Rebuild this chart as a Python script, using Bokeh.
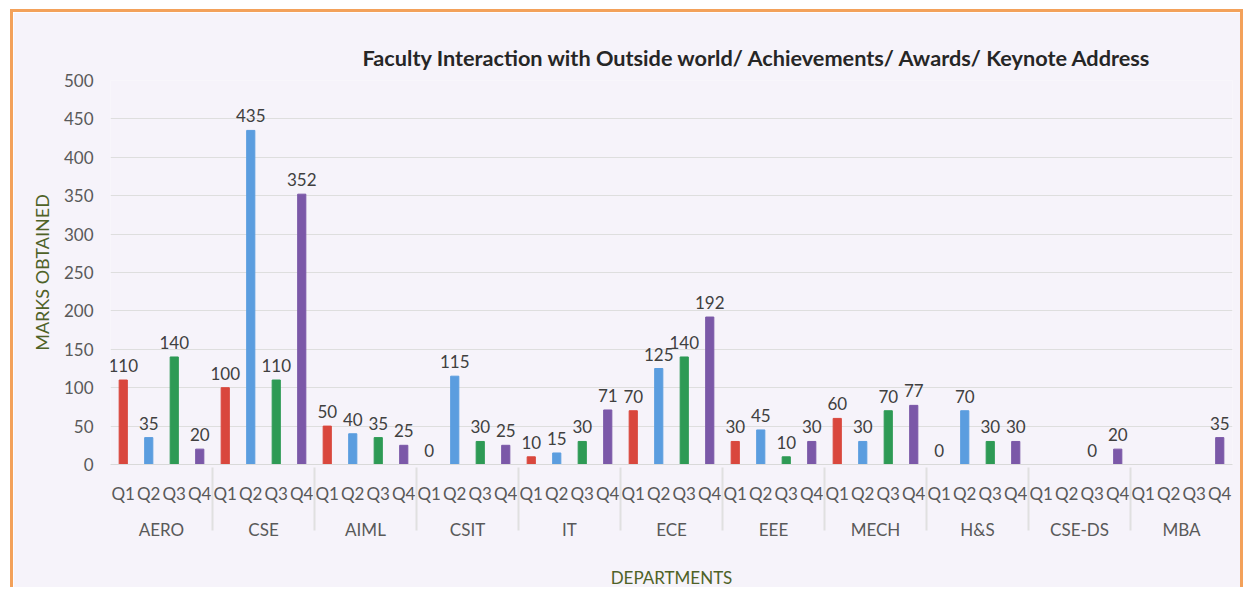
from bokeh.plotting import figure
from bokeh.models import FactorRange, Range1d, Title, ColumnDataSource, LabelSet, SingleIntervalTicker
from bokeh.core.properties import value
from bokeh.embed import file_html
from bokeh.resources import INLINE

depts = ["AERO", "CSE", "AIML", "CSIT", "IT", "ECE", "EEE", "MECH", "H&S", "CSE-DS", "MBA"]
quarters = ["Q1", "Q2", "Q3", "Q4"]
q1 = [110, 100, 50, 0, 10, 70, 30, 60, 0, None, None]
q2 = [35, 435, 40, 115, 15, 125, 45, 30, 70, None, None]
q3 = [140, 110, 35, 30, 30, 140, 10, 70, 30, 0, None]
q4 = [20, 352, 25, 25, 71, 192, 30, 77, 30, 20, 35]
colors = ["#d9473d", "#5b9ddf", "#2e9a55", "#7b58a8"]

series = [q1, q2, q3, q4]
factors = [(d, q) for d in depts for q in quarters]

xs, tops, cols, lt = [], [], [], []
for i, d in enumerate(depts):
    for j, q in enumerate(quarters):
        v = series[j][i]
        if v is None:
            continue
        xs.append((d, q)); tops.append(v); cols.append(colors[j]); lt.append(str(v))

FONT = "Lato"
bg = "#f6f3fa"
p = figure(x_range=FactorRange(*factors, group_padding=0, subgroup_padding=0, factor_padding=0, range_padding=0),
           y_range=Range1d(0, 500), width=1233, height=578,
           output_backend="svg", toolbar_location=None,
           min_border_left=97, min_border_right=14, min_border_top=68, min_border_bottom=125)
p.background_fill_color = bg
p.border_fill_color = bg
p.outline_line_color = None

p.title = Title(text="Faculty Interaction with Outside world/ Achievements/ Awards/ Keynote Address",
                align="left", offset=252, text_font=FONT, text_font_size="21.7px",
                text_font_style="bold", text_color="#262626", standoff=19)

src = ColumnDataSource(dict(x=xs, top=tops, color=cols, t=lt))
p.vbar(x="x", top="top", width=0.32, color="color", source=src)

p.add_layout(LabelSet(x="x", y="top", text="t", source=src, text_align="center",
                      text_baseline="bottom", y_offset=8, text_font=value(FONT),
                      text_font_size=value("17px"), text_color="#404040"))

p.ygrid.grid_line_color = "#dedede"
p.xgrid.grid_line_color = None

p.yaxis.ticker = SingleIntervalTicker(interval=50)
p.yaxis.axis_line_color = None
p.yaxis.major_tick_line_color = None
p.yaxis.minor_tick_line_color = None
p.yaxis.major_label_text_font = FONT
p.yaxis.major_label_text_font_size = "17px"
p.yaxis.major_label_text_color = "#595959"
p.yaxis.major_label_standoff = 11
p.yaxis.axis_label = "MARKS OBTAINED"
p.yaxis.axis_label_text_font = FONT
p.yaxis.axis_label_text_font_size = "18px"
p.yaxis.axis_label_text_font_style = "normal"
p.yaxis.axis_label_text_color = "#4f6228"
p.yaxis.axis_label_standoff = 8

p.xaxis.axis_line_color = "#d9d9d9"
p.xaxis.major_tick_line_color = None
p.xaxis.minor_tick_line_color = None
p.xaxis.major_label_text_font = FONT
p.xaxis.major_label_text_font_size = "17px"
p.xaxis.major_label_text_color = "#595959"
p.xaxis.major_label_standoff = 12
p.xaxis.group_text_font = FONT
p.xaxis.group_text_font_size = "17px"
p.xaxis.group_text_color = "#595959"
p.xaxis.group_text_font_style = "normal"
p.xaxis.separator_line_color = "#e0e0e0"
p.xaxis.axis_label = "DEPARTMENTS"
p.xaxis.axis_label_text_font = FONT
p.xaxis.axis_label_text_font_size = "17px"
p.xaxis.axis_label_text_font_style = "normal"
p.xaxis.axis_label_text_color = "#4f6228"
p.xaxis.axis_label_standoff = 24

p.styles = {"margin-left": "10px", "margin-top": "9px",
            "border-top": "3px solid #f3a15a", "border-left": "3px solid #f3a15a",
            "border-right": "3px solid #f3a15a"}

open("out.html", "w").write(file_html(p, INLINE))
